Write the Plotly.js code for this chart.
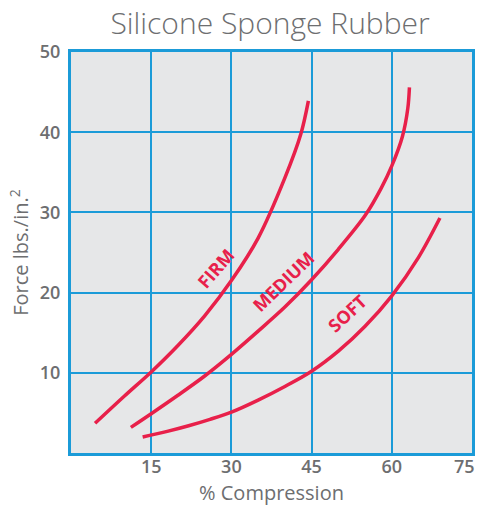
<!DOCTYPE html>
<html>
<head>
<meta charset="utf-8">
<script src="https://cdn.plot.ly/plotly-3.0.1.min.js"></script>
<style>html,body{margin:0;padding:0;background:#fff;}#chart{width:478px;height:506px;}</style>
</head>
<body>
<div id="chart"></div>
<script>
// FIRM curve
const firmX = [4.5, 10, 15, 20, 25, 30, 35, 40, 43, 44.4];
const firmY = [3.7, 7.1, 10.1, 13.4, 17.1, 21.5, 26.8, 34.3, 39.8, 43.9];
// MEDIUM curve
const mediumX = [11.2, 15, 20, 25, 30, 35, 40, 45, 50, 55, 58, 60, 62, 63, 63.3];
const mediumY = [3.2, 4.9, 7.2, 9.6, 12.3, 15.2, 18.2, 21.6, 25.4, 29.6, 33.0, 35.8, 39.5, 43, 45.6];
// SOFT curve
const softX = [13.4, 18, 22, 26, 30, 35, 40, 45, 50, 55, 60, 65, 69];
const softY = [2.0, 2.7, 3.4, 4.2, 5.1, 6.6, 8.3, 10.2, 12.7, 15.8, 19.6, 24.4, 29.3];

const xTicks = [15, 30, 45, 60, 75];
const yTicks = [10, 20, 30, 40, 50];

const curveLabels = ["FIRM", "MEDIUM", "SOFT"];
const labelX = [27.1, 39.8, 51.7];
const labelY = [23.1, 21.4, 17.4];
const labelAngle = [-49, -44, -43];

const red = "#e8204a";
const blue = "#1b9bd8";
const gray = "#6d6e70";
const tickFont = {family: "Open Sans", size: 18, color: gray, weight: 600};

function curve(x, y) {
  return {x: x, y: y, type: "scatter", mode: "lines",
    line: {color: red, width: 3.5, shape: "spline", smoothing: 0.9},
    hoverinfo: "skip", showlegend: false};
}

const data = [curve(firmX, firmY), curve(mediumX, mediumY), curve(softX, softY)];

const annotations = curveLabels.map((t, i) => ({
  x: labelX[i], y: labelY[i], xref: "x", yref: "y", text: t, showarrow: false,
  textangle: labelAngle[i],
  font: {family: "Open Sans", size: 18, color: red, weight: 700}
}));

// last x tick label sits against the right page edge, so it is drawn right-aligned
const lastTick = xTicks[xTicks.length - 1];
const axisTicks = xTicks.slice(0, -1);
annotations.push({
  x: lastTick, xref: "x", y: 0, yref: "paper", yanchor: "top", xanchor: "right",
  xshift: 5, yshift: 1, text: String(lastTick), showarrow: false, font: tickFont
});

const layout = {
  width: 478, height: 506,
  margin: {l: 71, r: 6, t: 52, b: 53},
  paper_bgcolor: "#ffffff",
  plot_bgcolor: "#e6e7e8",
  title: {text: "Silicone Sponge Rubber", x: 0.565, xanchor: "center", y: 0.954, yanchor: "middle",
    font: {family: "Open Sans", size: 30, color: gray, weight: 300}},
  xaxis: {range: [0, 75], tickvals: axisTicks, ticktext: axisTicks.map(String),
    showgrid: true, gridcolor: blue, gridwidth: 2,
    showline: true, mirror: true, linecolor: blue, linewidth: 3,
    zeroline: false, ticks: "", ticklabelstandoff: -5,
    tickfont: tickFont,
    title: {text: "% Compression", standoff: 10,
      font: {family: "Open Sans", size: 20, color: gray, weight: 500}}},
  yaxis: {range: [0, 50], tickvals: yTicks, ticktext: yTicks.map(String),
    showgrid: true, gridcolor: blue, gridwidth: 2,
    showline: true, mirror: true, linecolor: blue, linewidth: 3,
    zeroline: false, ticks: "", ticklabelstandoff: 4, ticklabeloverflow: "allow",
    tickfont: tickFont,
    title: {text: "Force lbs./in.<sup>2</sup>", standoff: 6,
      font: {family: "Open Sans", size: 20, color: gray, weight: 500}}},
  annotations: annotations
};

Plotly.newPlot("chart", data, layout, {displayModeBar: false, staticPlot: true});
</script>
</body>
</html>
